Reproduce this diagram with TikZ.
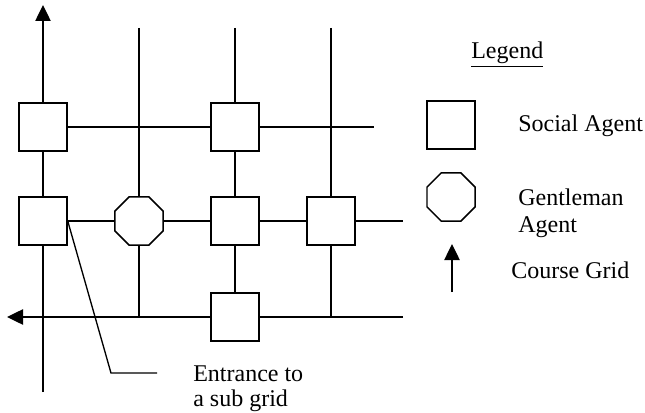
\documentclass[tikz,border=0pt]{standalone}
\usepackage{fontspec}
\setmainfont{Liberation Serif}
\usetikzlibrary{arrows.meta,shapes.geometric}
\begin{document}
\begin{tikzpicture}[x=0.75pt,y=-0.75pt,
  agent/.style={draw,line width=1.1pt,fill=white,minimum size=36pt,inner sep=0},
  gentle/.style={draw,line width=1.1pt,fill=white,regular polygon,regular polygon sides=8,minimum size=39pt,inner sep=0},
  wire/.style={line width=1pt},
  course/.style={wire,-{Triangle[width=11.5pt,length=12pt]}},
  lbl/.style={anchor=base west,inner sep=0,font=\fontsize{18}{21}\selectfont}]
\useasboundingbox (0,0) rectangle (645,413);

% agents on the grid
\node[agent]  (s1) at (43,127) {};
\node[agent]  (s2) at (235,127) {};
\node[agent]  (s3) at (43,221) {};
\node[gentle] (g1) at (139,221) {};
\node[agent]  (s4) at (235,221) {};
\node[agent]  (s5) at (331,221) {};
\node[agent]  (s6) at (235,317) {};

% free ends of the grid lines
\coordinate (c1top) at (43,5);
\coordinate (c1bot) at (43,392);
\coordinate (c2top) at (139,28);
\coordinate (c2bot) at (139,317);
\coordinate (c3top) at (235,28);
\coordinate (c4top) at (331,28);
\coordinate (c4bot) at (331,317);
\coordinate (r1end) at (374,127);
\coordinate (r2end) at (403,221);
\coordinate (r3start) at (403,317);
\coordinate (r3end) at (7,317);

% vertical lines
\draw[course] (s1.north) -- (c1top);
\draw[wire] (s3.north) -- (s1.south);
\draw[wire] (c1bot) -- (s3.south);
\draw[wire] (c2top) -- (g1.north) (g1.south) -- (c2bot);
\draw[wire] (c3top) -- (s2.north) (s2.south) -- (s4.north) (s4.south) -- (s6.north);
\draw[wire] (c4top) -- (s5.north) (s5.south) -- (c4bot);

% horizontal lines
\draw[wire] (s1.east) -- (s2.west) (s2.east) -- (r1end);
\draw[wire] (s3.east) -- (g1.west) (g1.east) -- (s4.west) (s4.east) -- (s5.west) (s5.east) -- (r2end);
\draw[wire] (r3start) -- (s6.east);
\draw[course] (s6.west) -- (r3end);

% entrance label with leader
\coordinate (k1) at (111,373);
\coordinate (k2) at (157,373);
\draw[wire] (s3.east) -- (k1) -- (k2);
\node[lbl] (ent1) at (193,381.5) {Entrance to};
\node[lbl] (ent2) at (193,406.5) {a sub grid};

% legend
\node[lbl] (leg) at (471,59) {\underline{Legend}};
\node[agent] (ls) at (451,125) {};
\node[lbl] (lst) at (518,131.5) {Social Agent};
\node[gentle] (lg) at (451,197) {};
\node[lbl] (lgt1) at (518,205) {Gentleman};
\node[lbl] (lgt2) at (518,232) {Agent};
\coordinate (la0) at (452,292);
\coordinate (la1) at (452,244);
\draw[course] (la0) -- (la1);
\node[lbl] (lct) at (511,278) {Course Grid};
\end{tikzpicture}
\end{document}
